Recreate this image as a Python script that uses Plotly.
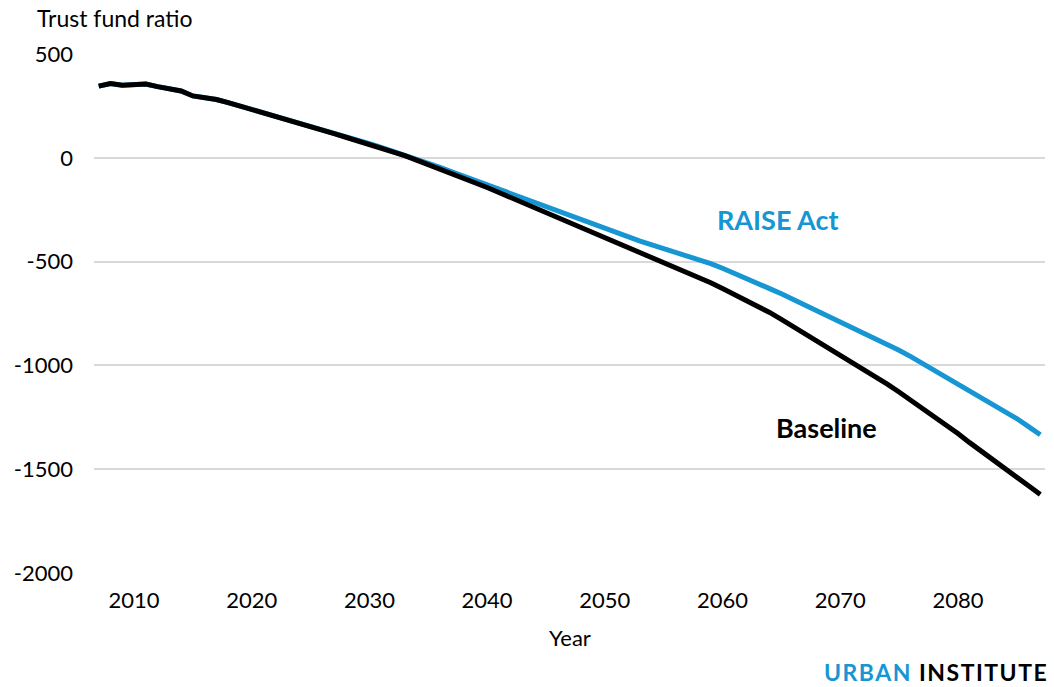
import plotly.graph_objects as go

years = list(range(2007, 2088))

baseline = [
    345, 358, 350, 355, 355, 343, 334, 322, 298, 290,   # 2007-2016
    281, 266, 250, 233, 217, 200, 184, 167, 150, 133,   # 2017-2026
    116, 99, 82, 65, 47, 28, 10, -11, -32, -54,         # 2027-2036
    -76, -98, -120, -143, -167, -191, -215, -239, -264, -289,  # 2037-2046
    -314, -338, -362, -386, -410, -434, -457, -480, -503, -527,  # 2047-2056
    -551, -575, -602, -630, -658, -686, -714, -745, -778, -812,  # 2057-2066
    -847, -881, -915, -948, -982, -1016, -1052, -1090, -1128, -1167,  # 2067-2076
    -1207, -1248, -1288, -1328, -1372, -1415, -1455, -1495, -1537, -1580,  # 2077-2086
    -1622,  # 2087
]

raise_act = [
    345, 358, 350, 355, 355, 343, 334, 322, 298, 290,   # 2007-2016
    281, 266, 250, 233, 217, 201, 185, 168, 152, 136,   # 2017-2026
    119, 103, 86, 68, 50, 32, 14, -4, -25, -46,         # 2027-2036
    -68, -89, -110, -131, -153, -172, -192, -212, -232, -252,  # 2037-2046
    -273, -294, -315, -336, -357, -379, -401, -419, -436, -454,  # 2047-2056
    -472, -490, -510, -532, -555, -578, -604, -630, -655, -682,  # 2057-2066
    -710, -736, -762, -789, -815, -842, -869, -897, -927, -958,  # 2067-2076
    -991, -1024, -1056, -1090, -1122, -1154, -1185, -1217, -1256, -1295,  # 2077-2086
    -1334,  # 2087
]

x_ticks = [2010, 2020, 2030, 2040, 2050, 2060, 2070, 2080]
y_ticks = [500, 0, -500, -1000, -1500, -2000]

BLUE = "#1696d2"
BLACK = "#000000"
FONT = "Lato, 'Open Sans', sans-serif"

fig = go.Figure()
fig.add_trace(go.Scatter(x=years, y=raise_act, mode="lines", name="RAISE Act",
                         line=dict(color=BLUE, width=5), showlegend=False))
fig.add_trace(go.Scatter(x=years, y=baseline, mode="lines", name="Baseline",
                         line=dict(color=BLACK, width=5), showlegend=False))

fig.update_layout(
    width=1054, height=687,
    margin=dict(l=94, r=9, t=54, b=114),
    paper_bgcolor="white", plot_bgcolor="white",
    font=dict(family=FONT, size=22, color="#000000"),
    xaxis=dict(range=[2006.6, 2087.4], tickvals=x_ticks, ticktext=[str(t) for t in x_ticks],
               showgrid=False, zeroline=False, showline=False, ticks="",
               ticklabelstandoff=12, tickfont=dict(size=22)),
    yaxis=dict(range=[-2000, 500], tickvals=y_ticks, ticktext=[str(t) for t in y_ticks],
               showgrid=True, gridcolor="#d9d9d9", gridwidth=2, zeroline=False,
               showline=False, ticks="", ticklabelstandoff=20, tickfont=dict(size=22)),
    annotations=[
        dict(text="Trust fund ratio", xref="paper", yref="paper", x=-0.0620, y=1.0,
             yshift=36, xanchor="left", yanchor="middle", showarrow=False,
             font=dict(size=23, family=FONT)),
        dict(text="Year", xref="paper", yref="paper", x=0.5, y=0, yshift=-64,
             xanchor="center", yanchor="middle", showarrow=False,
             font=dict(size=22, family=FONT)),
        dict(text="<b>RAISE Act</b>", xref="x", yref="y", x=2064.7, y=-298,
             xanchor="center", yanchor="middle", showarrow=False,
             font=dict(size=27, color=BLUE, family=FONT)),
        dict(text="<b>Baseline</b>", xref="x", yref="y", x=2068.8, y=-1300,
             xanchor="center", yanchor="middle", showarrow=False,
             font=dict(size=27, color=BLACK, family=FONT)),
        dict(text=("<span style='letter-spacing:1.5px'><b><span style='color:%s'>URBAN</span>"
                   " INSTITUTE</b></span>") % BLUE,
             xref="paper", yref="paper", x=1.0, y=0, xshift=5, yshift=-99,
             xanchor="right", yanchor="middle", showarrow=False,
             font=dict(size=23, color=BLACK, family=FONT)),
    ],
)

fig.write_html("out.html", config={"displayModeBar": False},
               post_script="document.body.style.margin='0';")
